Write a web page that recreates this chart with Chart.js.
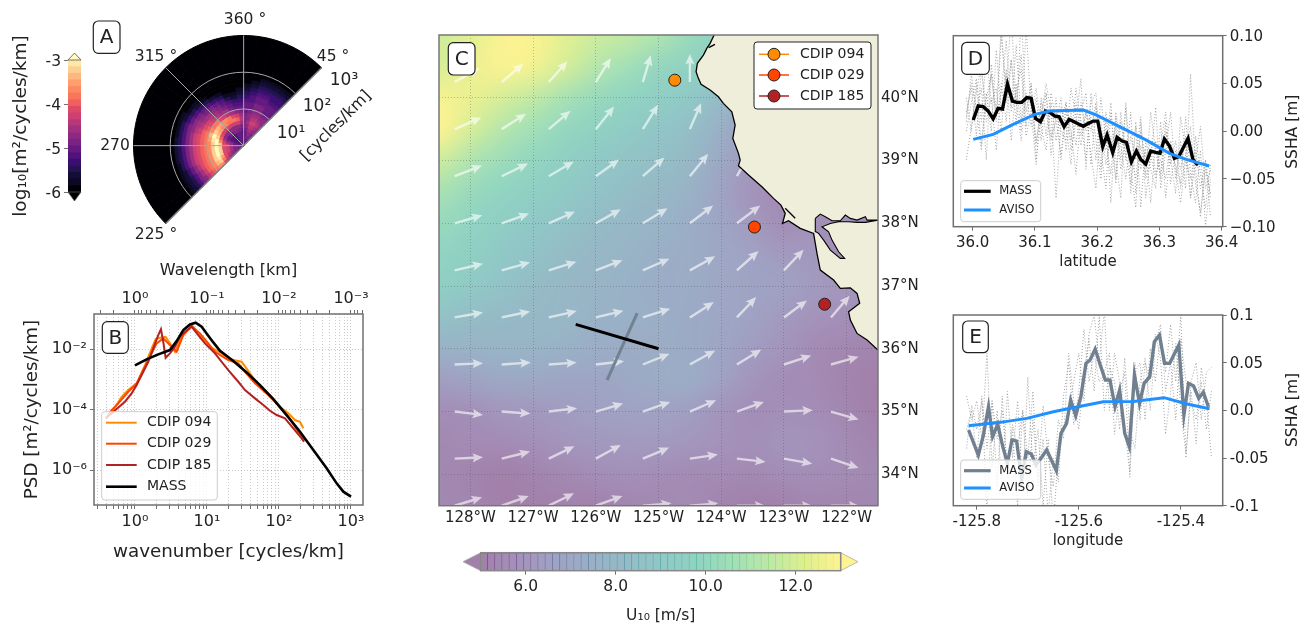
<!DOCTYPE html>
<html>
<head>
<meta charset="utf-8">
<title>Wave spectra, wind and SSHA</title>
<script src="https://cdn.jsdelivr.net/npm/chart.js@4/dist/chart.umd.js"></script>
<style>
html, body { margin: 0; background: #fff; }
canvas { position: absolute; left: 0; top: 0; }
</style>
</head>
<body>
<script>
// panel A: directional spectrum, one row per log-wavenumber ring (inner to outer), one char per sector (level 0-k)
const specDirections = [7.5,7.5,7.5,7.5,7.5,7.5,7.5,7.5,7.5,7.5,7.5,7.5,7.5,7.5,7.5,7.5,7.5,7.5,7.5,7.5,7.5,7.5,7.5,7.5];
const specRows = [
  '666666666666666665556666',
  '666777766555556665556666',
  '777777766554456665567777',
  '888999987555556665568877',
  '99abbbb97667778776679988',
  'abcccccb988888888778aa98',
  'cegiiiifdcbbcbbbb979bba9',
  'fijkkkkkihgffeeeda78aa98',
  'fhiiiiijkihgffecb9789988',
  'effffffghfeecba987678877',
  'deeeeeeeedcba99766667766',
  'cddddddddcba987655667766',
  'abccccccba99876544556666',
  '89abbbbba987765323456655',
  '778999998876543112345544',
  '556777777654321001234444',
  '334555555432100000123333',
  '222333333211000000012222',
  '111122211100000000001111',
  '000000000000000000000000'
];
const magma = ['#000004','#0b0924','#140e36','#251255','#3b0f70','#51127c','#641a80','#7b2382','#8c2981','#a1307e','#b73779',
  '#cd4071','#de4968','#f1605d','#f8765c','#fc8961','#fe9f6d','#feb77e','#fecf92','#fde7a9','#fcfdbf'];

// panel B: spectra as log10(wavenumber), log10(PSD)
const cdip094LogK = [-.403,-.301,-.185,-.093,.024,.139,.232,.288,.347,.426,.486,.556,.649,.788,.903,1.042,1.204,1.319,1.482,1.597,1.736,1.875,2.014,2.129,2.222,2.292,2.338];
const cdip094LogP = [-4.3,-4.017,-3.577,-3.355,-3.134,-2.529,-1.977,-1.669,-1.626,-1.593,-1.812,-2.089,-1.593,-1.207,-1.537,-1.924,-2.142,-2.34,-2.42,-2.803,-3.246,-3.521,-3.907,-4.126,-4.347,-4.403,-4.621];
const cdip029LogK = [-.403,-.324,-.232,-.093,.024,.139,.232,.301,.393,.486,.579,.671,.788,.903,1.018,1.111,1.296,1.435,1.528,1.667,1.851,1.99,2.129,2.268,2.361];
const cdip029LogP = [-4.3,-4.017,-3.795,-3.412,-3.134,-2.585,-2.142,-1.812,-1.646,-1.868,-2.089,-1.537,-1.24,-1.481,-1.812,-2.089,-2.364,-2.473,-2.75,-3.134,-3.521,-3.851,-4.238,-4.734,-5.008];
const cdip185LogK = [-.403,-.324,-.139,-.046,.024,.093,.185,.254,.324,.361,.393,.426,.486,.556,.625,.694,.788,.879,.972,1.111,1.296,1.435,1.528,1.667,1.782,1.875,1.968,2.083,2.199,2.315,2.347];
const cdip185LogP = [-4.281,-4.126,-3.742,-3.464,-3.19,-2.86,-2.42,-1.977,-1.537,-1.339,-1.759,-2.288,-2.142,-1.924,-1.593,-1.428,-1.263,-1.537,-1.812,-2.142,-2.694,-3.081,-3.355,-3.63,-3.851,-4.04,-4.182,-4.291,-4.621,-4.952,-5.064];
const massLogK = [0,.162,.324,.486,.579,.671,.764,.843,.926,.995,1.088,1.181,1.366,1.551,1.736,1.921,2.106,2.292,2.477,2.662,2.801,2.894,3];
const massLogP = [-2.54,-2.342,-2.176,-2.033,-1.736,-1.372,-1.185,-1.129,-1.262,-1.482,-1.78,-2.055,-2.397,-2.771,-3.19,-3.653,-4.182,-4.733,-5.339,-5.945,-6.441,-6.716,-6.881];

// panel C: wind speed on a 0.5 degree grid, north to south, west to east
const fieldLon = [-128.5,-128,-127.5,-127,-126.5,-126,-125.5,-125,-124.5,-124,-123.5,-123,-122.5,-122,-121.5];
const fieldLat = [41,40.5,40,39.5,39,38.5,38,37.5,37,36.5,36,35.5,35,34.5,34,33.5];
const fieldU10 = [
  [11.8,12.3,12.9,12.9,12.3,11.8,11.5,11,10.2,9.6,9,8,8,8,8],
  [12,12.5,12.9,12.7,12,11.2,10.6,10,9.6,9.3,8.5,8,8,8,8],
  [12.8,12.5,12,11.5,10.8,10.2,9.8,9.4,9,8.2,7.2,7,7,7,7],
  [13,12,11.2,10.6,10,9.6,9.2,8.8,8.4,7.4,6.4,6.2,6.2,6.2,6.2],
  [11.8,11,10.4,9.9,9.5,9.1,8.7,8.4,8,7,6.2,5.8,5.8,5.8,5.8],
  [10.8,10.2,9.8,9.5,9.1,8.7,8.3,8,7.6,6.7,5.8,5.5,5.4,5.4,5.4],
  [10.2,9.8,9.4,9,8.6,8.2,7.9,7.7,7.3,6.8,6.2,5.6,5.8,6,6],
  [9.8,9.5,9,8.6,8.2,7.9,7.7,7.4,7.2,6.9,6.6,6.2,6.1,5.7,5.7],
  [9.5,9.1,8.7,8.2,7.9,7.7,7.5,7.3,7.2,6.9,6.7,6.6,6.2,6,6],
  [8.6,8.3,8.1,8,7.9,7.6,7.5,7.4,7.1,6.9,6.6,6.2,5.8,5.7,5.7],
  [7.6,7.6,7.7,7.7,7.5,7.3,7.2,7.2,7.1,6.8,6.3,5.9,5.5,5.3,5.2],
  [6.4,6.7,7,7,6.8,6.8,7,7.2,7.3,6.6,5.9,5.6,5.5,5.2,5],
  [5.6,5.7,6,6.1,6.3,6.5,6.6,6.6,6.4,5.9,5.6,5.7,5.6,5.3,5],
  [5.4,5.5,5.5,5.7,5.9,6.1,6.2,6.2,6,5.8,5.7,5.9,5.8,5.5,5.2],
  [5.4,5.2,5,5.2,5.4,5.6,5.7,5.6,5.5,5.5,5.4,5.6,5.6,5.5,5.4],
  [5.4,5.3,5,5,5.1,5.1,5.3,5.4,5.5,5.2,5,5.1,5.3,5.3,5.3]
];
const viridis = ['#440154','#482475','#414487','#355f8d','#2a788e','#21918c','#22a884','#44bf70','#7ad151','#bddf26','#fde725'];

// wind arrows, tails on this lon/lat grid; u and v in picture units (188 per degree)
const quiverLon = [-128.25,-127.5,-126.75,-126,-125.25,-124.5,-123.75,-123,-122.25];
const quiverLat = [40.25,39.5,38.75,38,37.25,36.5,35.75,35,34.25,33.5];
const quiverU = [
  [75,65,56,45,24,0],
  [80,73,65,55,46,34],
  [82,79,75,70,65,55,40],
  [83,82,79,75,74,70,70],
  [85,85,83,80,80,76,65,59],
  [85,85,84,83,82,72,58,69,56],
  [85,87,84,85,80,76,73,82,83],
  [85,86,85,82,82,79,81,87,83],
  [85,85,77,75,79,84,86,85,83],
  [82,81,76,80,86,85,85,85,85]
];
const quiverV = [
  [42,55,62,72,80,84],
  [35,46,55,68,73,78],
  [32,38,44,50,56,67,70],
  [24,29,35,42,45,53,53],
  [20,24,26,30,35,42,58,62],
  [15,18,19,20,26,46,61,51,65],
  [4,6,6,10,32,42,45,27,23],
  [-10,-6,10,24,29,34,29,4,-24],
  [4,21,37,41,33,12,-10,-15,-28],
  [25,29,37,29,7,7,0,0,0]
];

const coastLon = [-124.113,-124.177,-124.23,-124.284,-124.38,-124.401,-124.364,-124.321,-124.177,-124.045,-123.965,-123.831,-123.778,-123.815,-123.725,-123.698,-123.725,-123.565,-123.351,-123.166,-123.048,-122.979,-123.022,-122.927,-122.74,-122.527,-122.5,-122.473,-122.42,-122.208,-122.101,-121.941,-121.834,-121.792,-121.968,-121.941,-121.834,-121.674,-121.5];
const coastLat = [41,40.867,40.787,40.68,40.548,40.414,40.309,40.214,40.123,40.016,39.911,39.777,39.565,39.353,39.114,39.007,38.916,38.768,38.582,38.397,38.29,38.158,37.998,38.04,37.919,37.839,37.68,37.52,37.254,37.095,36.963,36.972,36.883,36.724,36.59,36.457,36.245,36.139,35.98];
const landCornerLon = [-121.5,-121.5];
const landCornerLat = [35.98,41];
const bayLon = [-122.5,-122.42,-122.34,-122.233,-122.101,-122.021,-121.941,-121.834,-121.701,-121.674,-121.5,-121.701,-121.834,-121.968,-122.128,-122.26,-122.393,-122.288,-122.233,-122.128,-122.032,-122.101,-122.26,-122.367,-122.447,-122.489,-122.5];
const bayLat = [38.078,38.147,38.104,38.04,38.04,38.131,38.078,38.051,38.104,38.051,38.051,38.014,38.014,38.024,38.024,37.998,37.944,37.865,37.732,37.546,37.441,37.441,37.573,37.732,37.839,37.865,38.078];
const tomalesLon = [-122.98,-122.82];
const tomalesLat = [38.24,38.08];
const humboldtLon = [-124.2,-124.1];
const humboldtLat = [40.8,40.85];

const stationNames = ['CDIP 094','CDIP 029','CDIP 185'];
const stationLon = [-124.74,-123.47,-122.35];
const stationLat = [40.28,37.94,36.71];
const stationColors = ['#ff8c00','#ff4500','#b22222'];
const transectDLon = [-126.32,-125];
const transectDLat = [36.39,36];
const transectELon = [-125.34,-125.82];
const transectELat = [36.57,35.5];

// panel D: SSHA along latitude
const massDLat = [36.001,36.009,36.017,36.025,36.033,36.041,36.048,36.056,36.064,36.071,36.079,36.087,36.094,36.101,36.109,36.117,36.124,36.132,36.139,36.147,36.155,36.163,36.17,36.178,36.186,36.194,36.201,36.209,36.216,36.225,36.232,36.24,36.247,36.255,36.263,36.27,36.278,36.286,36.294,36.301,36.308,36.316,36.324,36.331,36.339,36.346,36.354,36.362];
const massDSsha = [.0117,.0264,.0257,.0211,.0131,.0239,.0232,.0494,.0316,.0302,.0302,.0351,.0344,.0134,.0099,.0211,.0197,.0159,.0152,.0047,.0124,.0099,.0075,.0051,.0082,.0106,.0106,-.0162,-.004,-.0225,-.0065,-.0103,-.0117,-.0319,-.0208,-.0295,-.0344,-.0208,-.0222,-.0232,-.0082,-.0152,-.0284,-.0267,-.0162,-.0075,-.0302,-.0354];
const avisoDLat = [36.001,36.033,36.065,36.1,36.124,36.178,36.199,36.236,36.279,36.316,36.343,36.38];
const avisoDSsha = [-.0086,-.0033,.0072,.0176,.0211,.0222,.0169,.0047,-.0093,-.0232,-.0295,-.0365];
const dotDLat = [35.99,35.998,36.006,36.014,36.022,36.03,36.038,36.046,36.054,36.062,36.07,36.078,36.086,36.094,36.102,36.11,36.118,36.126,36.134,36.142,36.15,36.158,36.166,36.174,36.182,36.19,36.198,36.206,36.214,36.222,36.23,36.238,36.246,36.254,36.262,36.27,36.278,36.286,36.294,36.302,36.31,36.318,36.326,36.334,36.342,36.35,36.358,36.366,36.374,36.382];
const dotDSeries = [
  [-.03,.005,.04,.07,.02,.06,.01,.1,.045,.12,.03,.08,.005,.05,-.015,.03,.02,-.01,.035,-.03,.02,-.01,.045,.01,-.03,.03,.04,-.02,-.06,.02,-.03,-.07,.03,-.04,-.08,.01,-.05,-.03,.025,-.06,-.02,.02,-.05,-.01,-.06,.06,-.04,-.09,-.03,-.07],
  [.01,.06,.02,.045,-.03,.07,.02,.11,.03,.075,.005,.125,.02,.05,-.03,.015,.05,.02,-.07,.01,.03,-.02,.01,.055,-.04,.04,-.01,-.05,.01,-.075,.015,-.03,.025,-.065,.005,-.08,-.01,-.04,-.06,.01,-.07,-.02,-.035,-.055,.015,-.045,-.075,-.02,-.1,-.05],
  [.035,0,.05,-.015,.04,0,.085,.02,.06,-.01,.05,0,.11,.02,-.035,.035,-.005,.04,.01,-.025,.03,0,-.045,.02,.04,-.035,.025,-.01,-.02,.03,-.055,.01,-.03,.02,-.065,-.015,-.045,.02,-.02,-.05,0,-.03,-.065,.015,-.02,-.07,-.005,-.045,-.08,-.035],
  [.02,.045,-.005,.065,.01,.035,-.02,.05,.01,.075,.03,-.01,.04,.005,.035,-.01,.04,-.025,.02,0,-.01,.045,.015,-.015,.02,-.025,-.06,.01,-.035,-.005,-.05,.02,-.025,-.055,.01,-.04,-.02,-.075,-.01,-.045,.01,-.055,-.02,-.04,-.005,-.07,-.03,.005,-.06,-.04],
  [0,.03,.055,.01,.08,.03,.045,0,.065,.025,.09,.01,.035,.03,-.01,.02,.04,-.005,.01,.035,-.02,.02,-.015,.03,0,.015,-.03,.035,-.01,-.045,.02,-.015,-.05,-.005,-.03,.015,-.07,-.025,-.05,-.015,.02,-.035,-.01,-.06,-.025,.005,-.055,-.085,-.04,-.065],
  [.015,.05,.025,-.02,.035,.06,.015,.04,.095,.02,.04,.065,-.005,.02,.045,.005,-.02,.03,-.01,.025,.005,-.035,.03,-.005,.02,0,.03,-.04,.02,-.02,.005,-.04,-.01,-.025,-.05,0,-.03,-.01,-.045,-.03,-.05,-.01,-.04,-.075,-.03,-.05,-.02,-.06,-.03,-.09]
];

// panel E: SSHA along longitude
const massELon = [-125.816,-125.797,-125.787,-125.777,-125.769,-125.759,-125.749,-125.74,-125.731,-125.722,-125.712,-125.703,-125.693,-125.684,-125.674,-125.663,-125.644,-125.635,-125.624,-125.616,-125.606,-125.596,-125.586,-125.578,-125.568,-125.558,-125.548,-125.539,-125.529,-125.52,-125.51,-125.501,-125.491,-125.481,-125.472,-125.461,-125.452,-125.442,-125.432,-125.422,-125.404,-125.394,-125.385,-125.375,-125.365,-125.356,-125.346];
const massESsha = [-.0206,-.0469,-.0259,.0038,-.0276,-.0147,-.0381,-.0556,-.0311,-.0322,-.0713,-.0434,-.0458,-.0573,-.0503,-.0416,-.0633,-.0241,-.0136,.0108,-.0056,.0143,.0493,.0528,.0643,.0476,.0318,.0318,.0038,.0213,-.0241,-.0381,.0371,.0073,.0283,.0353,.072,.079,.0493,.0493,.0685,-.0049,.0283,.0255,.0126,.0189,.0038];
const avisoELon = [-125.816,-125.754,-125.702,-125.65,-125.604,-125.552,-125.493,-125.433,-125.388,-125.344];
const avisoESsha = [-.0161,-.0126,-.0084,-.0014,.0035,.0091,.0094,.0133,.0066,.0017];
const dotELon = [-125.82,-125.81,-125.8,-125.79,-125.78,-125.77,-125.76,-125.75,-125.74,-125.73,-125.72,-125.71,-125.7,-125.69,-125.68,-125.67,-125.66,-125.65,-125.64,-125.63,-125.62,-125.61,-125.6,-125.59,-125.58,-125.57,-125.56,-125.55,-125.54,-125.53,-125.52,-125.51,-125.5,-125.49,-125.48,-125.47,-125.46,-125.45,-125.44,-125.43,-125.42,-125.41,-125.4,-125.39,-125.38,-125.37,-125.36,-125.35,-125.34];
const dotESeries = [
  [.015,-.01,.01,-.03,.06,-.06,0,-.09,.02,-.05,.01,-.08,.035,-.06,-.02,-.1,-.03,-.12,-.045,-.02,0,.03,.06,.01,.08,.1,.05,.105,0,.06,.03,-.02,-.065,.04,.05,-.01,.065,.03,.08,.04,.09,.03,.1,-.05,.03,.05,-.01,.04,.045],
  [-.04,.005,-.02,.01,-.04,.01,-.08,.015,-.07,-.02,-.1,0,-.05,.02,-.08,-.03,-.11,-.05,-.075,.015,.05,-.015,.02,.085,.03,.06,.03,.04,.06,-.025,.02,.04,-.07,.05,-.01,.05,.03,.08,.055,-.025,.02,.07,0,-.045,.02,-.035,.045,.01,-.05],
  [-.02,0,-.05,.015,-.11,.01,-.03,0,-.06,-.015,-.04,0,-.09,-.01,-.07,.005,-.05,-.08,-.01,-.03,.06,.01,-.02,.04,.075,.02,.1,0,.045,.03,-.02,.055,-.02,-.04,.03,.055,0,.07,.09,.02,.05,-.01,.075,.03,.01,-.01,.03,-.02,.02]
];

// tick positions and labels
const kDecadeLabels = {'0':'10⁰','1':'10¹','2':'10²','3':'10³'};
const wlDecadeLabels = {'0':'10⁰','-1':'10⁻¹','-2':'10⁻²','-3':'10⁻³'};
const psdTicks = [1e-6,1e-4,1e-2];
const psdLabels = ['10⁻⁶','10⁻⁴','10⁻²'];
const lonTicks = [-128,-127,-126,-125,-124,-123,-122];
const lonLabels = ['128°W','127°W','126°W','125°W','124°W','123°W','122°W'];
const latTicks = [34,35,36,37,38,39,40];
const latLabels = ['34°N','35°N','36°N','37°N','38°N','39°N','40°N'];
const dLatTicks = [36,36.1,36.2,36.3,36.4];
const dLatLabels = ['36.0','36.1','36.2','36.3','36.4'];
const dSshaTicks = [-.1,-.05,0,.05,.1];
const dSshaLabels = ['−0.10','−0.05','0.00','0.05','0.10'];
const eLonTicks = [-125.8,-125.6,-125.4];
const eLonLabels = ['-125.8','-125.6','-125.4'];
const eSshaTicks = [-.1,-.05,0,.05,.1];
const eSshaLabels = ['-0.1','-0.05','0.0','0.05','0.1'];
const specBarTicks = [-6,-5,-4,-3];
const specBarLabels = ['-6','-5','-4','-3'];
const windBarTicks = [6,8,10,12];
const windBarLabels = ['6.0','8.0','10.0','12.0'];

const W = 1303, H = 626;
const INK = '#222', SPINE = '#707070';
Chart.defaults.font.family = '"DejaVu Sans"';
Chart.defaults.font.size = 15;
Chart.defaults.color = INK;

function pairs(xs, ys) { return xs.map((x, i) => ({ x, y: ys[i] })); }
function logPairs(xs, ys) { return xs.map((x, i) => ({ x: 10 ** x, y: 10 ** ys[i] })); }

function hexRgb(h) { return [1, 3, 5].map(i => parseInt(h.slice(i, i + 2), 16)); }
function viridisRgb(v) {
  const t = Math.min(1, Math.max(0, (v - 5) / 8)) * (viridis.length - 1);
  const i = Math.min(viridis.length - 2, Math.floor(t));
  const a = hexRgb(viridis[i]), b = hexRgb(viridis[i + 1]);
  return a.map((c, k) => c + (b[k] - c) * (t - i));
}

// place the plot frame at page pixels, axis boxes have a fixed size
function framePadding(l, t, r, b, ax) {
  return { left: l - (ax.left || 0), top: t - (ax.top || 0), right: W - r - (ax.right || 0), bottom: H - b - (ax.bottom || 0) };
}
function axis(size, values, labels, extra) {
  return Object.assign({
    afterBuildTicks: s => { s.ticks = values.map(v => ({ value: v })); },
    afterFit: s => {
      if (s.isHorizontal()) s.height = size; else s.width = size;
      s.paddingLeft = s.paddingRight = s.paddingTop = s.paddingBottom = 0;
    },
    border: { display: false },
    grid: { drawOnChartArea: false, tickLength: 4, tickColor: SPINE, tickWidth: 1 }
  }, extra, {
    ticks: Object.assign({ autoSkip: false, maxRotation: 0, minRotation: 0, padding: 3, callback: (v, i) => labels[i] }, extra.ticks)
  });
}
function logValues(min, max) {
  const out = [];
  for (let d = -4; d <= 3; d++) {
    for (let m = 1; m <= 9; m++) {
      const v = m * 10 ** d;
      if (v >= min && v <= max) out.push(v);
    }
  }
  return out;
}
function decadeLabels(values, map) {
  return values.map(v => {
    const e = Math.log10(v), r = Math.round(e);
    return Math.abs(e - r) < 1e-6 ? (map[String(r)] || '') : '';
  });
}

function text(ctx, t) {
  ctx.save();
  ctx.translate(t.x, t.y);
  if (t.rot) ctx.rotate(t.rot * Math.PI / 180);
  ctx.font = (t.size || 15) + 'px "DejaVu Sans"';
  ctx.fillStyle = INK;
  ctx.textAlign = t.align || 'center';
  ctx.textBaseline = 'middle';
  ctx.fillText(t.t, 0, 0);
  ctx.restore();
}
function badge(ctx, b) {
  ctx.beginPath();
  ctx.roundRect(b.x0, b.y0, b.x1 - b.x0, b.y1 - b.y0, 5);
  ctx.fillStyle = '#fff';
  ctx.fill();
  ctx.strokeStyle = '#222';
  ctx.lineWidth = 1.2;
  ctx.stroke();
  text(ctx, { t: b.t, x: (b.x0 + b.x1) / 2, y: (b.y0 + b.y1) / 2 + 1, size: 20 });
}
function legendBox(ctx, g) {
  ctx.beginPath();
  ctx.roundRect(g.x0, g.y0, g.x1 - g.x0, g.y1 - g.y0, 3);
  ctx.fillStyle = g.fill;
  ctx.fill();
  ctx.strokeStyle = g.edge;
  ctx.lineWidth = 1;
  ctx.stroke();
  g.items.forEach(it => {
    ctx.beginPath();
    ctx.moveTo(g.lx0, it.y);
    ctx.lineTo(g.lx1, it.y);
    ctx.strokeStyle = it.color;
    ctx.lineWidth = it.width;
    ctx.stroke();
    if (g.marker) {
      ctx.beginPath();
      ctx.arc((g.lx0 + g.lx1) / 2, it.y, 6, 0, 2 * Math.PI);
      ctx.fillStyle = it.color;
      ctx.fill();
      ctx.strokeStyle = '#222';
      ctx.lineWidth = 1;
      ctx.stroke();
    }
    text(ctx, { t: it.label, x: g.tx, y: it.y, size: g.size, align: 'left' });
  });
}
// frame, texts, legend and letter badge go on top of each panel
function decor(cfg) {
  return {
    id: 'decor',
    afterDraw(chart) {
      const ctx = chart.ctx, a = chart.chartArea;
      if (cfg.frame) {
        ctx.strokeStyle = cfg.frame;
        ctx.lineWidth = 1.5;
        ctx.strokeRect(a.left, a.top, a.right - a.left, a.bottom - a.top);
      }
      if (cfg.legend) legendBox(ctx, cfg.legend);
      (cfg.texts || []).forEach(t => text(ctx, t));
      if (cfg.badge) badge(ctx, cfg.badge);
    }
  };
}

function addChart(config) {
  const canvas = document.createElement('canvas');
  canvas.width = W;
  canvas.height = H;
  document.body.appendChild(canvas);
  const o = config.options = config.options || {};
  o.responsive = false;
  o.animation = false;
  o.plugins = Object.assign({ legend: { display: false }, tooltip: { enabled: false } }, o.plugins);
  return new Chart(canvas, config);
}

// colour bar ends, taken from the value scale of the bar
function barEnds(axisId, lowColor, highColor, overshoot, edge) {
  return {
    id: 'barEnds',
    afterDatasetsDraw(chart) {
      const ctx = chart.ctx, a = chart.chartArea, s = chart.scales[axisId];
      const lo = s.getPixelForValue(s.min), hi = s.getPixelForValue(s.max);
      const tri = (p) => {
        ctx.beginPath();
        if (s.isHorizontal()) {
          ctx.moveTo(p[0], a.top); ctx.lineTo(p[1], (a.top + a.bottom) / 2); ctx.lineTo(p[0], a.bottom);
        } else {
          ctx.moveTo(a.left, p[0]); ctx.lineTo((a.left + a.right) / 2, p[1]); ctx.lineTo(a.right, p[0]);
        }
        ctx.closePath();
        ctx.fill();
        ctx.strokeStyle = edge;
        ctx.lineWidth = 0.8;
        ctx.stroke();
      };
      ctx.fillStyle = lowColor;
      tri([lo, lo + overshoot[0]]);
      ctx.fillStyle = highColor;
      tri([hi, hi + overshoot[1]]);
    }
  };
}

// ---- A colour bar
const specBarSets = magma.slice(0, 20).map((c, i) => ({
  data: [[-6 + i * 0.15, -6 + (i + 1) * 0.15]], backgroundColor: c, barPercentage: 1, categoryPercentage: 1, grouped: false
}));
addChart({
  type: 'bar',
  data: { labels: ['a'], datasets: specBarSets },
  options: {
    layout: { padding: framePadding(68, 60, 81, 192, { left: 58 }), autoPadding: false },
    scales: {
      x: { display: false },
      y: axis(58, specBarTicks, specBarLabels, {
        type: 'linear', min: -6, max: -3, position: 'left',
        ticks: { font: { size: 15.5 }, labelOffset: 1.5 },
        title: { display: true, text: 'log₁₀[m²/cycles/km]', font: { size: 18.5 }, padding: 0 }
      })
    }
  },
  plugins: [barEnds('y', magma[0], magma[20], [9, -7], '#555'), decor({
    badge: { t: 'A', x0: 93.3, y0: 21, x1: 120, y1: 53.3 }
  })]
});

// ---- A polar spectrum
const specSets = specRows.slice().reverse().map((row, i) => {
  const colors = row.split('').map(ch => magma[parseInt(ch, 21)]);
  return { data: specDirections, backgroundColor: colors, borderColor: colors, borderWidth: 1, weight: i === 0 ? 11 : 1 };
});
addChart({
  type: 'doughnut',
  data: { datasets: specSets },
  options: {
    rotation: -135, circumference: 180, cutout: 0,
    layout: { padding: framePadding(133, 35, 322, 224, {}) }
  },
  plugins: [{
    id: 'polarGrid',
    afterDatasetsDraw(chart) {
      const ctx = chart.ctx, arc = chart.getDatasetMeta(0).data[0];
      const cx = arc.x, cy = arc.y, R = arc.outerRadius, deg = Math.PI / 180;
      ctx.strokeStyle = '#a8a8a8';
      ctx.lineWidth = 1;
      [R / 3, 2 * R / 3].forEach(r => {
        ctx.beginPath();
        ctx.arc(cx, cy, r, 135 * deg, 315 * deg);
        ctx.stroke();
      });
      [270, 315, 360].forEach(b => {
        ctx.beginPath();
        ctx.moveTo(cx, cy);
        ctx.lineTo(cx + R * Math.sin(b * deg), cy - R * Math.cos(b * deg));
        ctx.stroke();
      });
      ctx.strokeStyle = '#808080';
      ctx.lineWidth = 1.5;
      ctx.beginPath();
      ctx.moveTo(cx + R * Math.sin(225 * deg), cy - R * Math.cos(225 * deg));
      ctx.lineTo(cx + R * Math.sin(45 * deg), cy - R * Math.cos(45 * deg));
      ctx.stroke();
    }
  }, decor({
    texts: [
      { t: '360 °', x: 245, y: 20, size: 15.5 }, { t: '315 °', x: 156, y: 57, size: 15.5 }, { t: '45 °', x: 333, y: 57, size: 15.5 },
      { t: '270', x: 115, y: 146, size: 15.5 }, { t: '225 °', x: 156, y: 235, size: 15.5 },
      { t: '10¹', x: 291, y: 134, size: 17 }, { t: '10²', x: 317, y: 107, size: 17 }, { t: '10³', x: 344, y: 81, size: 17 },
      { t: '[cycles/km]', x: 336, y: 126, rot: -45, size: 16 }
    ]
  })]
});

// ---- B spectra
const kMin = 0.27, kMax = 1468;
const kValues = logValues(kMin, kMax);
const wlValues = logValues(1 / kMax, 1 / kMin);
const dotted = { color: 'rgba(128,128,128,0.42)', lineWidth: 1, drawOnChartArea: true, tickLength: 4, tickColor: SPINE };
addChart({
  type: 'scatter',
  data: {
    datasets: [
      { data: logPairs(massLogK, massLogP), borderColor: '#000', borderWidth: 2.6, showLine: true, pointRadius: 0 },
      { data: logPairs(cdip185LogK, cdip185LogP), borderColor: stationColors[2], borderWidth: 2, showLine: true, pointRadius: 0 },
      { data: logPairs(cdip029LogK, cdip029LogP), borderColor: stationColors[1], borderWidth: 2, showLine: true, pointRadius: 0 },
      { data: logPairs(cdip094LogK, cdip094LogP), borderColor: stationColors[0], borderWidth: 2, showLine: true, pointRadius: 0 }
    ]
  },
  options: {
    layout: { padding: framePadding(94, 314, 363, 505, { left: 73, top: 53, bottom: 58 }) },
    scales: {
      x: axis(58, kValues, decadeLabels(kValues, kDecadeLabels), {
        type: 'logarithmic', min: kMin, max: kMax, position: 'bottom',
        grid: dotted, border: { display: false, dash: [1, 2] },
        ticks: { font: { size: 16 } },
        title: { display: true, text: 'wavenumber [cycles/km]', font: { size: 18.3 }, padding: 0 }
      }),
      x2: axis(53, wlValues, decadeLabels(wlValues, wlDecadeLabels), {
        axis: 'x', type: 'logarithmic', min: 1 / kMax, max: 1 / kMin, reverse: true, position: 'top',
        ticks: { font: { size: 16 }, padding: 2 },
        title: { display: true, text: 'Wavelength [km]', font: { size: 16 }, padding: 0 }
      }),
      y: axis(73, psdTicks, psdLabels, {
        type: 'logarithmic', min: 10 ** -7.157, max: 10 ** -0.84, position: 'left',
        grid: dotted, border: { display: false, dash: [1, 2] },
        ticks: { font: { size: 16 } },
        title: { display: true, text: 'PSD [m²/cycles/km]', font: { size: 18.3 }, padding: 0 }
      })
    }
  },
  plugins: [decor({
    frame: SPINE,
    legend: {
      x0: 101.7, y0: 411.7, x1: 217.3, y1: 500, fill: 'rgba(255,255,255,0.8)', edge: '#ccc',
      lx0: 106, lx1: 136.7, tx: 147, size: 14,
      items: [
        { label: stationNames[0], color: stationColors[0], width: 2, y: 422.7 },
        { label: stationNames[1], color: stationColors[1], width: 2, y: 443.7 },
        { label: stationNames[2], color: stationColors[2], width: 2, y: 465 },
        { label: 'MASS', color: '#000', width: 2.6, y: 486.7 }
      ]
    },
    badge: { t: 'B', x0: 102.3, y0: 321.7, x1: 128.3, y1: 353.3 }
  })]
});

// ---- C map
const fieldPoints = [];
fieldLat.forEach((lat, j) => fieldLon.forEach((lon, i) => fieldPoints.push({ x: lon, y: lat, v: fieldU10[j][i] })));
const quiverPoints = [];
quiverU.forEach((row, j) => row.forEach((u, i) => quiverPoints.push({ x: quiverLon[i], y: quiverLat[j], u, v: quiverV[j][i] })));
const landLon = coastLon.concat(landCornerLon);
const landLat = coastLat.concat(landCornerLat);

const fieldPlugin = {
  id: 'windField',
  beforeDraw(chart) {
    const meta = chart.getDatasetMeta(chart.data.datasets.length - 1);
    const a = chart.chartArea, ctx = chart.ctx, pts = meta.data;
    const nx = fieldLon.length, ny = fieldLat.length;
    const off = document.createElement('canvas');
    off.width = nx;
    off.height = ny;
    const octx = off.getContext('2d');
    const img = octx.createImageData(nx, ny);
    fieldPoints.forEach((p, k) => {
      const c = viridisRgb(p.v);
      img.data[k * 4] = c[0] * 0.5 + 127.5;
      img.data[k * 4 + 1] = c[1] * 0.5 + 127.5;
      img.data[k * 4 + 2] = c[2] * 0.5 + 127.5;
      img.data[k * 4 + 3] = 255;
    });
    octx.putImageData(img, 0, 0);
    const dx = pts[1].x - pts[0].x, dy = pts[nx].y - pts[0].y;
    ctx.save();
    ctx.beginPath();
    ctx.rect(a.left, a.top, a.right - a.left, a.bottom - a.top);
    ctx.clip();
    ctx.imageSmoothingEnabled = true;
    ctx.imageSmoothingQuality = 'high';
    ctx.drawImage(off, pts[0].x - dx / 2, pts[0].y - dy / 2, dx * nx, dy * ny);
    ctx.restore();
  }
};
const quiverPlugin = {
  id: 'quiver',
  beforeDatasetsDraw(chart) {
    const ctx = chart.ctx, a = chart.chartArea, sx = chart.scales.x, sy = chart.scales.y;
    ctx.save();
    ctx.beginPath();
    ctx.rect(a.left, a.top, a.right - a.left, a.bottom - a.top);
    ctx.clip();
    ctx.fillStyle = 'rgba(255,255,255,0.62)';
    quiverPoints.forEach(q => {
      const x0 = sx.getPixelForValue(q.x), y0 = sy.getPixelForValue(q.y);
      const x1 = sx.getPixelForValue(q.x + q.u / 188), y1 = sy.getPixelForValue(q.y + q.v / 188);
      const len = Math.hypot(x1 - x0, y1 - y0);
      ctx.save();
      ctx.translate(x0, y0);
      ctx.rotate(Math.atan2(y1 - y0, x1 - x0));
      ctx.beginPath();
      ctx.moveTo(0, -1.2);
      ctx.lineTo(len - 9, -1.2);
      ctx.lineTo(len - 10.5, -4.6);
      ctx.lineTo(len, 0);
      ctx.lineTo(len - 10.5, 4.6);
      ctx.lineTo(len - 9, 1.2);
      ctx.lineTo(0, 1.2);
      ctx.closePath();
      ctx.fill();
      ctx.restore();
    });
    ctx.restore();
  }
};
const stationSets = stationLon.map((lon, i) => ({
  data: [{ x: lon, y: stationLat[i] }], backgroundColor: stationColors[i], borderColor: '#222', borderWidth: 1, pointRadius: 6, showLine: false
}));
addChart({
  type: 'scatter',
  data: {
    datasets: stationSets.concat([
      { data: pairs(transectDLon, transectDLat), borderColor: '#000', borderWidth: 3, showLine: true, pointRadius: 0 },
      { data: pairs(transectELon, transectELat), borderColor: 'rgba(112,128,144,0.95)', borderWidth: 3, showLine: true, pointRadius: 0 },
      { data: pairs(tomalesLon, tomalesLat), borderColor: '#000', borderWidth: 1.3, showLine: true, pointRadius: 0 },
      { data: pairs(humboldtLon, humboldtLat), borderColor: '#000', borderWidth: 1.5, showLine: true, pointRadius: 0 },
      { data: pairs(bayLon, bayLat), borderColor: '#000', borderWidth: 1.1, backgroundColor: '#a290b8', fill: 'shape', showLine: true, pointRadius: 0 },
      { data: pairs(coastLon, coastLat), borderColor: '#000', borderWidth: 1.3, showLine: true, pointRadius: 0 },
      { data: pairs(landLon, landLat), borderColor: 'rgba(0,0,0,0)', borderWidth: 0, backgroundColor: '#efeedb', fill: 'shape', showLine: true, pointRadius: 0 },
      { data: quiverPoints, pointRadius: 0, showLine: false },
      { data: fieldPoints, pointRadius: 0, showLine: false }
    ])
  },
  options: {
    layout: { padding: framePadding(439, 35, 878, 505.7, { right: 42, bottom: 26 }) },
    scales: {
      x: axis(26, lonTicks, lonLabels, {
        type: 'linear', min: -128.5, max: -121.5, position: 'bottom',
        grid: { color: 'rgba(70,70,70,0.32)', lineWidth: 1, drawOnChartArea: true, drawTicks: false },
        border: { display: false, dash: [1, 2] }, ticks: { padding: 3 }
      }),
      y: axis(42, latTicks, latLabels, {
        type: 'linear', min: 33.5, max: 41, position: 'right',
        grid: { color: 'rgba(70,70,70,0.32)', lineWidth: 1, drawOnChartArea: true, drawTicks: false },
        border: { display: false, dash: [1, 2] }, ticks: { padding: 3 }
      })
    }
  },
  plugins: [fieldPlugin, quiverPlugin, decor({
    frame: '#777',
    legend: {
      x0: 754, y0: 42, x1: 871, y1: 109, fill: '#fff', edge: '#222', marker: true,
      lx0: 759, lx1: 789, tx: 800, size: 14,
      items: stationNames.map((n, i) => ({ label: n, color: stationColors[i], width: 1.5, y: [54.3, 75, 96][i] }))
    },
    badge: { t: 'C', x0: 448.3, y0: 42.7, x1: 475, y1: 75 }
  })]
});

// ---- C colour bar
const windLevels = [];
for (let i = 0; i < 50; i++) windLevels.push(5 + i * 0.16);
const windBarSets = windLevels.map(lo => {
  const c = viridisRgb(lo + 0.08).map(Math.round);
  const col = 'rgba(' + c.join(',') + ',0.5)';
  return { data: [[lo, lo + 0.16]], backgroundColor: col, borderColor: col, borderWidth: 0.3, barPercentage: 1, categoryPercentage: 1, grouped: false };
});
const windLow = viridisRgb(5).map(Math.round), windHigh = viridisRgb(13).map(Math.round);
addChart({
  type: 'bar',
  data: { labels: ['a'], datasets: windBarSets },
  options: {
    indexAxis: 'y',
    layout: { padding: framePadding(480.7, 552.7, 840.7, 570.7, { bottom: 55 }), autoPadding: false },
    scales: {
      y: { display: false },
      x: axis(55, windBarTicks, windBarLabels, {
        type: 'linear', min: 5, max: 13, position: 'bottom',
        title: { display: true, text: 'U₁₀ [m/s]', font: { size: 15.5 }, padding: 0 },
        ticks: { font: { size: 15.5 } }
      })
    }
  },
  plugins: [barEnds('x', 'rgba(' + windLow.join(',') + ',0.5)', 'rgba(' + windHigh.join(',') + ',0.5)', [-17.7, 17.3], '#aaa'), decor({ frame: '#888' })]
});

// ---- D and E transects
function sshaChart(cfg) {
  const sets = [
    { data: pairs(cfg.avisoX, cfg.avisoY), borderColor: '#1e90ff', borderWidth: 3, showLine: true, pointRadius: 0 },
    { data: pairs(cfg.massX, cfg.massY), borderColor: cfg.massColor, borderWidth: 3.4, showLine: true, pointRadius: 0 }
  ];
  cfg.dots.forEach(d => sets.push({
    data: pairs(cfg.dotX, d), borderColor: '#999', borderWidth: 0.9, borderDash: [1, 2], showLine: true, pointRadius: 0
  }));
  addChart({
    type: 'scatter',
    data: { datasets: sets },
    options: {
      layout: { padding: framePadding(953.3, cfg.top, 1222.7, cfg.bottom, { right: 70, bottom: 44 }) },
      scales: {
        x: axis(44, cfg.xTicks, cfg.xLabels, {
          type: 'linear', min: cfg.xMin, max: cfg.xMax, position: 'bottom',
          title: { display: true, text: cfg.xTitle, font: { size: 15 }, padding: 0 }
        }),
        y: axis(70, cfg.yTicks, cfg.yLabels, {
          type: 'linear', min: -0.1, max: 0.1, position: 'right',
          ticks: { labelOffset: 1 }
        })
      }
    },
    plugins: [decor({
      frame: SPINE,
      legend: {
        x0: 960.7, y0: cfg.legendY[0], x1: 1040.7, y1: cfg.legendY[1], fill: 'rgba(255,255,255,0.8)', edge: '#ccc',
        lx0: 964, lx1: 990.7, tx: 999.3, size: 11.6,
        items: [
          { label: 'MASS', color: cfg.massColor, width: 3.2, y: cfg.legendY[2] },
          { label: 'AVISO', color: '#1e90ff', width: 3, y: cfg.legendY[3] }
        ]
      },
      texts: [{ t: 'SSHA [m]', x: 1292.5, y: cfg.sshaY, size: 15.5, rot: -90 }],
      badge: cfg.badge
    })]
  });
}
sshaChart({
  top: 35.7, bottom: 226.7, xMin: 35.969, xMax: 36.4016, xTitle: 'latitude',
  xTicks: dLatTicks, xLabels: dLatLabels, yTicks: dSshaTicks, yLabels: dSshaLabels,
  massX: massDLat, massY: massDSsha, massColor: '#000', avisoX: avisoDLat, avisoY: avisoDSsha,
  dotX: dotDLat, dots: dotDSeries, sshaY: 131.7, legendY: [180.7, 221.7, 191.3, 210],
  badge: { t: 'D', x0: 961.7, y0: 42.3, x1: 989.3, y1: 74.3 }
});
sshaChart({
  top: 315, bottom: 505.7, xMin: -125.846, xMax: -125.318, xTitle: 'longitude',
  xTicks: eLonTicks, xLabels: eLonLabels, yTicks: eSshaTicks, yLabels: eSshaLabels,
  massX: massELon, massY: massESsha, massColor: '#708090', avisoX: avisoELon, avisoY: avisoESsha,
  dotX: dotELon, dots: dotESeries, sshaY: 410, legendY: [460, 499.3, 470.7, 488],
  badge: { t: 'E', x0: 962.7, y0: 321, x1: 988.3, y1: 352.7 }
});
</script>
</body>
</html>
